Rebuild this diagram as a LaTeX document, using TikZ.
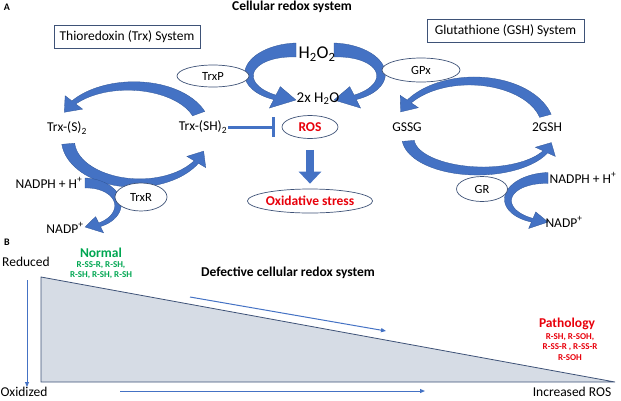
\documentclass[tikz,border=0pt]{standalone}
\usepackage{fontspec}
\setmainfont{Carlito}
\usetikzlibrary{positioning, shapes.geometric, arrows.meta}

\definecolor{arrowblue}{HTML}{4472C4}
\definecolor{edgeblue}{HTML}{2F5597}
\definecolor{outline}{HTML}{3E5277}
\definecolor{wedgefill}{HTML}{D6DCE5}
\definecolor{normalgreen}{HTML}{00A651}
\definecolor{pathred}{HTML}{E8000B}

% curved block arrow: cx, cy, rx, ry, start angle, end angle, tail width, neck width, head half width
\newcommand{\bendarrow}[9]{%
  \pgfmathsetmacro{\hdeg}{((#6)>(#5) ? 1 : -1)*1.4*#9/((#3+#4)/2)*57.3}
  \pgfmathsetmacro{\aend}{#6-\hdeg}
  \filldraw[bendblue]
    plot[domain=#5:\aend, samples=40]
      ({#1+(#3+(#7+(#8-#7)*(\x-(#5))/(\aend-(#5)))/2)*cos(\x)},
       {#2+(#4+(#7+(#8-#7)*(\x-(#5))/(\aend-(#5)))/2)*sin(\x)})
    -- ({#1+(#3+#9)*cos(\aend)}, {#2+(#4+#9)*sin(\aend)})
    -- ({#1+#3*cos(#6)}, {#2+#4*sin(#6)})
    -- ({#1+(#3-#9)*cos(\aend)}, {#2+(#4-#9)*sin(\aend)})
    -- plot[domain=\aend:#5, samples=40]
      ({#1+(#3-(#7+(#8-#7)*(\x-(#5))/(\aend-(#5)))/2)*cos(\x)},
       {#2+(#4-(#7+(#8-#7)*(\x-(#5))/(\aend-(#5)))/2)*sin(\x)})
    -- cycle;
}

\begin{document}
\begin{tikzpicture}[x=1pt, y=-1pt,
    lbl/.style={font=\fontsize{13.5}{15}\selectfont, inner sep=1pt},
    heading/.style={font=\bfseries\fontsize{13.5}{15}\selectfont, inner sep=1pt},
    sysbox/.style={rectangle, draw=outline, line width=0.7pt, font=\fontsize{13.5}{15}\selectfont, inner sep=0pt},
    enzyme/.style={ellipse, draw=outline, line width=0.7pt, fill=white, inner sep=0pt, font=\fontsize{12.5}{14}\selectfont},
    redspot/.style={ellipse, draw=outline, line width=0.7pt, fill=white, inner sep=0pt, text=pathred, font=\bfseries\fontsize{13.5}{15}\selectfont},
    bendblue/.style={fill=arrowblue, draw=edgeblue, line width=0.3pt},
    inhibit/.style={draw=arrowblue, line width=3pt, -{Bar[width=20pt, line width=3pt]}},
    blockarrow/.style={draw=arrowblue, line width=8pt, -{Triangle[length=12pt, width=22pt]}},
    thinarrow/.style={draw=arrowblue, line width=1pt, -{Triangle[length=5pt, width=4pt]}},
    smalllist/.style={font=\bfseries\fontsize{9}{10.5}\selectfont, align=center, inner sep=0pt}
  ]
    \useasboundingbox (0,0) rectangle (621,400);

    % part A: curved arrows
    \bendarrow{131}{128}{72}{42}{-20}{-158}{13}{5}{11}
    \bendarrow{137}{140}{69}{43}{175}{15}{13}{5}{11}
    \bendarrow{85}{205}{33}{22}{-90}{90}{10}{4}{9}
    \bendarrow{296}{75}{47}{25}{270}{90}{14}{5}{12}
    \bendarrow{334}{75}{47}{25}{-90}{90}{14}{5}{12}
    \bendarrow{472}{128}{76}{47}{-15}{-160}{12}{5}{11}
    \bendarrow{480}{138}{72}{33}{175}{8}{12}{5}{11}
    \bendarrow{548}{200}{40}{22}{270}{90}{11}{4}{9}

    \node[font=\bfseries\fontsize{10}{12}\selectfont] (parta) at (7,7) {A};
    \node[heading] (title) at (292,7) {Cellular redox system};
    \node[sysbox, minimum width=146pt, minimum height=23pt] (trxsys) at (127,36.5) {Thioredoxin (Trx) System};
    \node[sysbox, minimum width=157pt, minimum height=23pt] (gshsys) at (505.5,30.5) {Glutathione (GSH) System};

    \node[lbl, font=\fontsize{18}{20}\selectfont] (peroxide) at (317,54) {H\textsubscript{2}O\textsubscript{2}};
    \node[lbl, font=\fontsize{15}{17}\selectfont] (water) at (318,99) {2x H\textsubscript{2}O};

    \node[enzyme, minimum width=72pt, minimum height=22pt] (trxp) at (213,76) {TrxP};
    \node[enzyme, minimum width=78pt, minimum height=24pt] (gpx) at (421,70) {GPx};
    \node[enzyme, minimum width=52pt, minimum height=28pt] (trxr) at (141,197) {TrxR};
    \node[enzyme, minimum width=51pt, minimum height=25pt] (gr) at (482,189) {GR};

    \node[redspot, minimum width=56pt, minimum height=23pt] (ros) at (310,127) {ROS};
    \node[redspot, minimum width=112pt, minimum height=24pt] (oxstress) at (310,201) {Oxidative stress};

    \node[lbl] (trxs) at (67,128) {Trx-(S)\textsubscript{2}};
    \node[lbl] (trxsh) at (203,127) {Trx-(SH)\textsubscript{2}};
    \node[lbl] (gssg) at (407,127) {GSSG};
    \node[lbl] (gsh) at (547,127) {2GSH};
    \node[lbl] (nadphl) at (49,183) {NADPH + H\textsuperscript{+}};
    \node[lbl] (nadpl) at (65,228) {NADP\textsuperscript{+}};
    \node[lbl] (nadphr) at (583,178) {NADPH + H\textsuperscript{+}};
    \node[lbl] (nadpr) at (564,222) {NADP\textsuperscript{+}};

    \draw[inhibit, shorten >=7pt] (trxsh.east) -- (ros.west);
    \draw[blockarrow, shorten <=11pt, shorten >=5pt] (ros.south) -- (oxstress.north);

    % part B: redox gradient
    \filldraw[fill=wedgefill, draw=outline, line width=0.8pt] (41,277) -- (41,382) -- (615,382) -- cycle;

    \node[font=\bfseries\fontsize{10}{12}\selectfont] (partb) at (7,242) {B};
    \node[lbl] (reduced) at (26,262) {Reduced};
    \node[lbl] (oxidized) at (24,391.5) {Oxidized};
    \node[lbl] (moreros) at (572,391.5) {Increased ROS};
    \node[heading] (defective) at (288,273) {Defective cellular redox system};

    \node[heading, text=normalgreen] (normal) at (101,253) {Normal};
    \node[smalllist, text=normalgreen, below=2pt of normal] (normallist) {R-SS-R, R-SH,\\R-SH, R-SH, R-SH};
    \node[heading, text=pathred] (pathology) at (567,324) {Pathology};
    \node[smalllist, text=pathred, below=2pt of pathology, xshift=3pt] (pathlist) {R-SH, R-SOH,\\R-SS-R , R-SS-R\\R-SOH};

    \coordinate (vtop) at (27,280);
    \coordinate (vbot) at (27,387);
    \coordinate (slopea) at (190,297);
    \coordinate (slopeb) at (386,331);
    \coordinate (flata) at (120,391);
    \coordinate (flatb) at (425,391);
    \draw[thinarrow] (vtop) -- (vbot);
    \draw[thinarrow] (slopea) -- (slopeb);
    \draw[thinarrow] (flata) -- (flatb);
\end{tikzpicture}
\end{document}
